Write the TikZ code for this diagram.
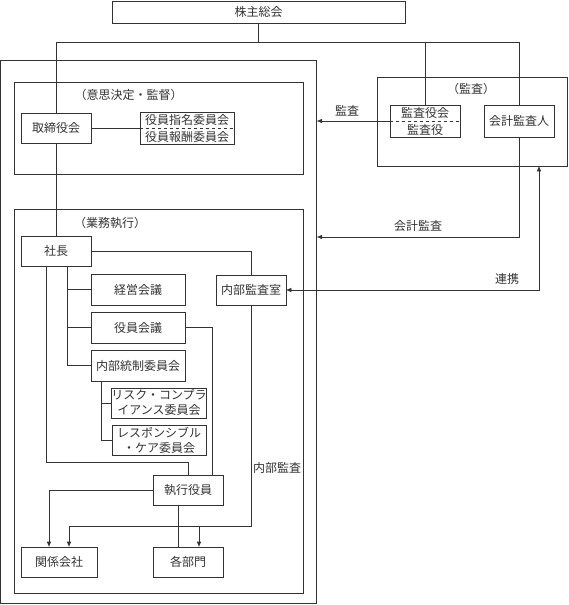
\documentclass[tikz,border=0pt]{standalone}
\usepackage{fontspec}
\setmainfont{Noto Sans CJK JP}
\usetikzlibrary{arrows.meta}

\begin{document}
\begin{tikzpicture}[x=1pt,y=-1pt,line width=0.6pt,color=black!80,
  box/.style={draw,rectangle,minimum width=70pt,minimum height=30pt,inner sep=0pt,align=center,font=\fontsize{12}{14}\selectfont},
  frame/.style={draw,rectangle,inner sep=0pt},
  lbl/.style={font=\fontsize{12}{14}\selectfont},
  >={Triangle[length=5pt,width=4pt]}]
\useasboundingbox (0,0) rectangle (568,605);
% frames
\node[frame,minimum width=316pt,minimum height=543pt] (outer) at (158.75,331.5) {};
\node[frame,minimum width=288.5pt,minimum height=92pt] (ishi) at (158.75,128) {};
\node[frame,minimum width=289pt,minimum height=384pt] (gyomu) at (158.5,401) {};
\node[frame,minimum width=190pt,minimum height=89pt] (kansa) at (472,121.5) {};
\node[lbl] (ishilbl) at (128.6,95) {（意思決定・監督）};
\node[lbl] (gyomulbl) at (110,223) {（業務執行）};
\node[lbl] (kansalbl) at (471,89) {（監査）};
% boxes
\node[box,minimum width=293pt,minimum height=22pt] (kabu) at (258.5,12) {株主総会};
\node[box] (torishimari) at (56,128) {取締役会};
\node[box,minimum width=94pt,minimum height=32pt] (iinkai) at (187,128) {役員指名委員会\\[3pt]役員報酬委員会};
\node[box,minimum height=32pt] (kansayakukai) at (425,121) {監査役会\\[3pt]監査役};
\node[box,minimum height=32pt] (kaikei) at (519,121) {会計監査人};
\node[box] (shacho) at (56,251) {社長};
\node[box,minimum width=94pt,minimum height=31pt] (keiei) at (138,289.5) {経営会議};
\node[box,minimum width=94pt,minimum height=31pt] (yakuin) at (138,327.5) {役員会議};
\node[box,minimum width=94pt,minimum height=31pt] (tousei) at (138,365.5) {内部統制委員会};
\node[box,minimum width=94pt] (risk) at (159,403) {リスク・コンプラ\\[1pt]イアンス委員会};
\node[box,minimum width=94pt] (care) at (159,440) {レスポンシブル\\[1pt]・ケア委員会};
\node[box] (naibukansa) at (251,290) {内部監査室};
\node[box] (shikko) at (188,490) {執行役員};
\node[box,minimum width=76pt] (kankei) at (59,562) {関係会社};
\node[box] (bumon) at (188,562) {各部門};
\draw[dashed] (iinkai.west) -- (iinkai.east);
\draw[dashed] (kansayakukai.west) -- (kansayakukai.east);
% shareholders bus
\coordinate (bus) at (0,42);
\draw (kabu.south) -- (kabu.south |- bus);
\draw (torishimari.north) |- (bus -| kaikei.north) -- (kaikei.north);
\draw (kansayakukai.north) -- (kansayakukai.north |- bus);
\draw (torishimari.east) -- (iinkai.west);
\draw (torishimari.south) -- (shacho.north);
% audit
\draw[->] (kansayakukai.west) -- (kansayakukai.west -| outer.east);
\node[lbl] (kansatxt) at (347,111) {監査};
\coordinate (kk) at (519,237);
\draw[->] (kaikei.south) -- (kk) -- (kk -| outer.east);
\node[lbl] (kaikeitxt) at (418,226) {会計監査};
\draw[<->] (naibukansa.east) -| ([xshift=67pt]kansa.south);
\node[lbl] (renkeitxt) at (507,279) {連携};
% execution
\draw (shacho.east) -| (naibukansa.north);
\draw ([xshift=11pt]shacho.south) |- (keiei.west);
\draw ([xshift=11pt]shacho.south) |- (yakuin.west);
\draw ([xshift=11pt]shacho.south) |- (tousei.west);
\draw ([xshift=-37pt]tousei.south) |- (risk.west);
\draw ([xshift=-37pt]tousei.south) |- (care.west);
\draw ([xshift=-10pt]shacho.south) |- ([yshift=12pt]shikko.north) -- (shikko.north);
\draw (yakuin.east) -| ([xshift=24pt]shikko.north);
\draw[->] (shikko.west) -| ([xshift=-10pt]kankei.north);
\draw ([xshift=-10pt]shikko.south) -- ([xshift=-10pt]bumon.north);
\draw[->] (naibukansa.south) |- ([xshift=10pt,yshift=20pt]kankei.north) -- ([xshift=10pt]kankei.north);
\draw[->] ([xshift=11pt,yshift=20pt]bumon.north) -- ([xshift=11pt]bumon.north);
\node[lbl] (naibutxt) at (277,468) {内部監査};
\end{tikzpicture}
\end{document}
